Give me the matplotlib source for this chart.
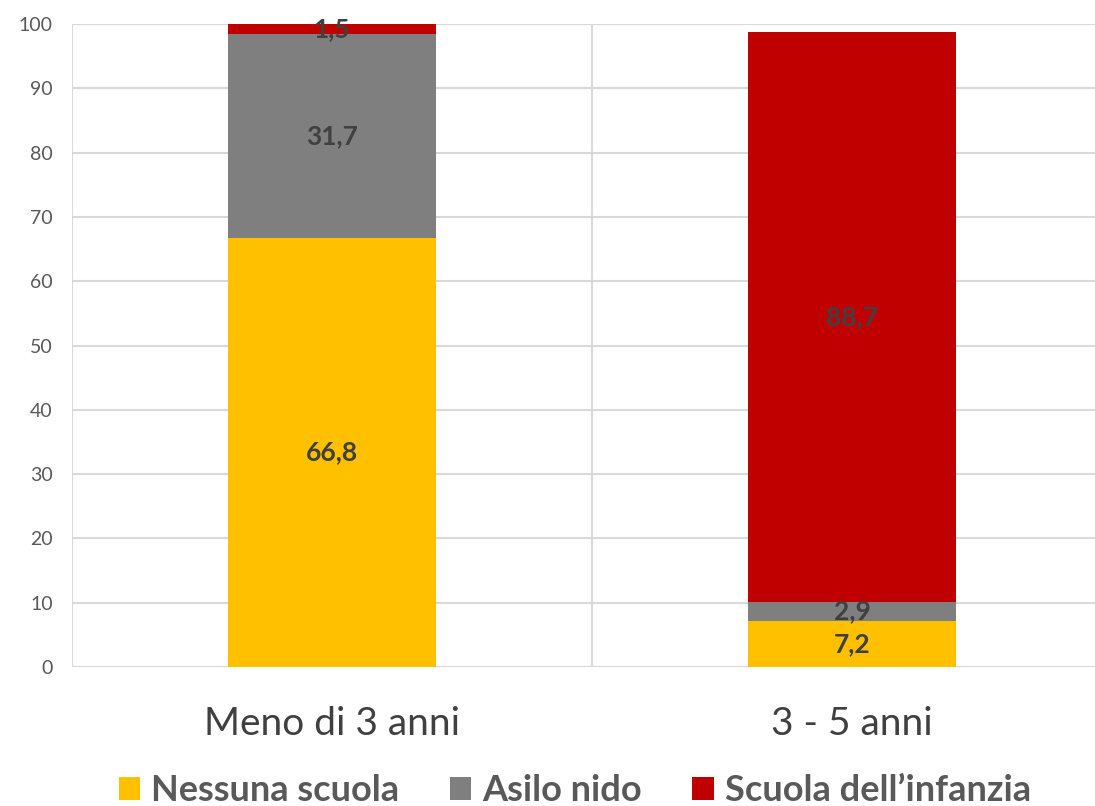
import numpy as np
import matplotlib
matplotlib.use("Agg")
import matplotlib.pyplot as plt

categories = ["Meno di 3 anni", "3 - 5 anni"]
series_names = ["Nessuna scuola", "Asilo nido", "Scuola dell\u2019infanzia"]
nessuna = [66.8, 7.2]
asilo = [31.7, 2.9]
infanzia = [1.5, 88.7]
colors = ["#FFC000", "#7F7F7F", "#C00000"]

plt.rcParams["font.family"] = ["Lato", "DejaVu Sans"]

fig = plt.figure(figsize=(10.95, 8.06), dpi=100)
ax = fig.add_axes([0.0658, 0.1725, 0.9498, 0.7975])

x = np.arange(len(categories))
bottom = np.zeros(len(categories))
for vals, name, col in zip([nessuna, asilo, infanzia], series_names, colors):
    ax.bar(x, vals, width=0.4, bottom=bottom, color=col, label=name, zorder=2)
    for xi, b, v in zip(x, bottom, vals):
        ax.text(xi, b + v / 2, f"{v:.1f}".replace(".", ","), ha="center", va="center",
                fontsize=19, fontweight="bold", color="#404040", zorder=3)
    bottom += np.array(vals)

ax.set_xlim(-0.5, 1.5)
ax.set_ylim(0, 100)
ax.set_yticks(range(0, 101, 10))
ax.set_xticks(x)
ax.set_xticklabels(categories, fontsize=28, color="#404040")
ax.tick_params(axis="y", labelsize=14, labelcolor="#595959", length=0, pad=14)
ax.tick_params(axis="x", length=0, pad=28)

ax.yaxis.grid(True, color="#D9D9D9", linewidth=1.5, zorder=0)
for xv in [-0.5, 0.5, 1.5]:
    ax.axvline(xv, color="#D9D9D9", linewidth=1.5, zorder=0)
for s in ax.spines.values():
    s.set_visible(False)
ax.axhline(0, color="#D9D9D9", linewidth=1.5, zorder=1)

leg = fig.legend(loc="lower center", bbox_to_anchor=(0.525, -0.042), ncol=3, frameon=False,
                 prop={"size": 26, "weight": "bold"}, handlelength=0.6, handleheight=0.6,
                 handletextpad=0.3, columnspacing=1.4)
for t in leg.get_texts():
    t.set_color("#595959")

fig.savefig("out.png", dpi=100)
